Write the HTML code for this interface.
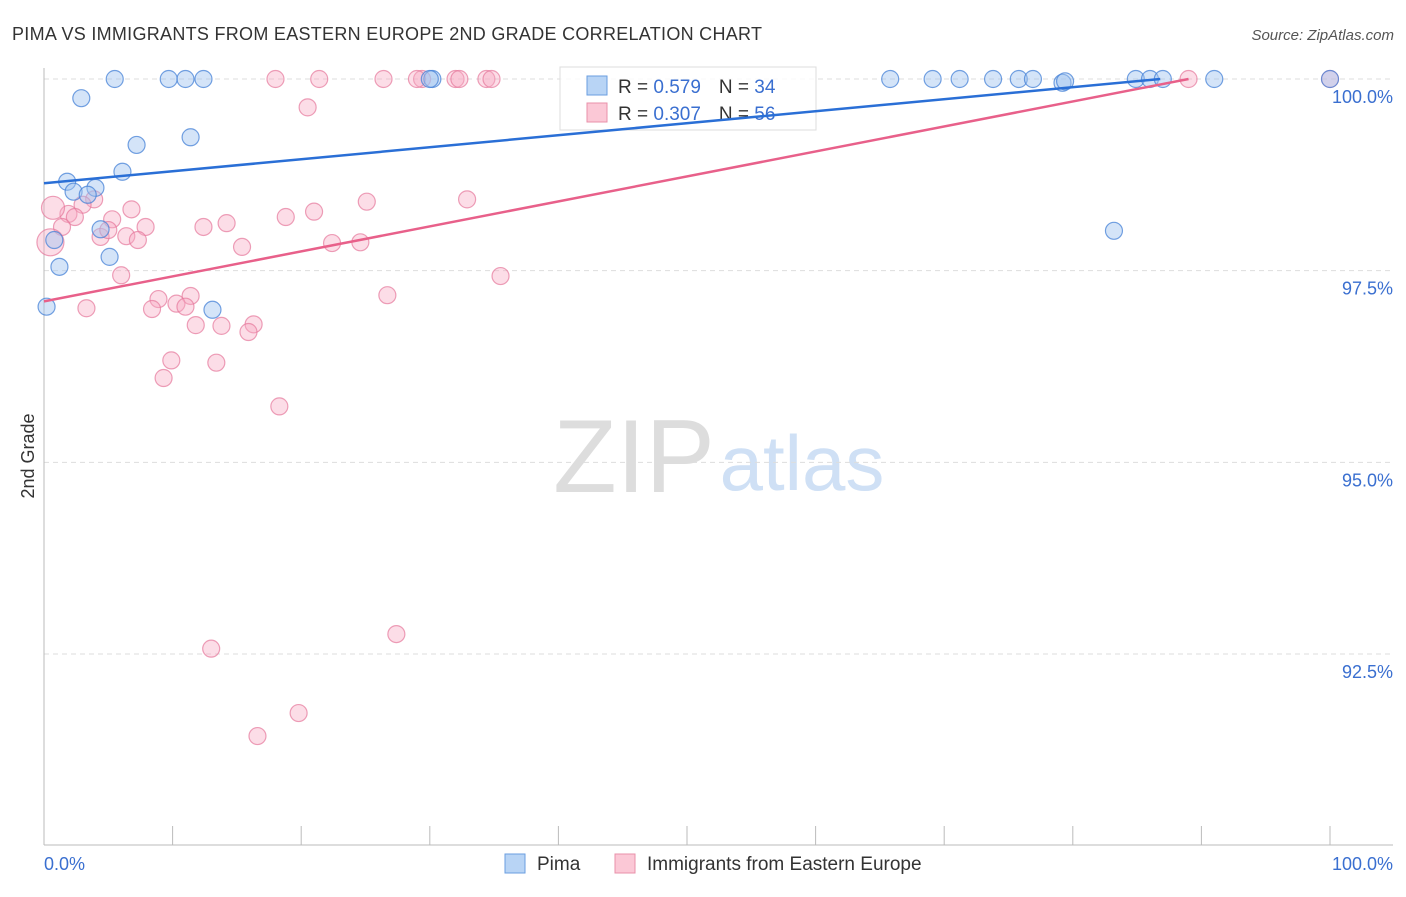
<!DOCTYPE html>
<html><head><meta charset="utf-8"><style>
body{margin:0;background:#fff;font-family:"Liberation Sans",sans-serif}
svg text{font-family:"Liberation Sans",sans-serif}
</style></head><body>
<svg id="chart" width="1406" height="892" xmlns="http://www.w3.org/2000/svg">
<text x="12" y="40" font-size="18" fill="#333" textLength="750">PIMA VS IMMIGRANTS FROM EASTERN EUROPE 2ND GRADE CORRELATION CHART</text>
<text x="1394" y="40" font-size="15" fill="#555" text-anchor="end" font-style="italic">Source: ZipAtlas.com</text>
<g>
<text x="634" y="492" font-size="104" fill="#ddd" text-anchor="middle" font-family="Liberation Serif">ZIP</text>
<text x="802" y="490" font-size="78" fill="#cfe0f5" text-anchor="middle">atlas</text>
</g>
<g id="grid"></g>
<g id="axes"></g>
<g id="points"></g>
<g>
<rect x="560" y="67" width="256" height="63" fill="rgba(255,255,255,0.8)" stroke="#ddd"/>
<rect x="587" y="76" width="20" height="19" fill="#b8d4f5" stroke="#6a9ee0"/>
<rect x="587" y="103" width="20" height="19" fill="#fbc8d6" stroke="#e890aa"/>
<text x="618" y="93" font-size="19" fill="#333">R = <tspan fill="#3a6fd0">0.579</tspan><tspan dx="18">N = </tspan><tspan fill="#3a6fd0">34</tspan></text>
<text x="618" y="120" font-size="19" fill="#333">R = <tspan fill="#3a6fd0">0.307</tspan><tspan dx="18">N = </tspan><tspan fill="#3a6fd0">56</tspan></text>
</g>
<g id="lines"></g>
<text transform="translate(34,456) rotate(-90)" font-size="18" fill="#333" text-anchor="middle">2nd Grade</text>
<g>
<rect x="505" y="854" width="20" height="19" fill="#b8d4f5" stroke="#6a9ee0"/>
<text x="537" y="870" font-size="19" fill="#333">Pima</text>
<rect x="615" y="854" width="20" height="19" fill="#fbc8d6" stroke="#e890aa"/>
<text x="647" y="870" font-size="19" fill="#333">Immigrants from Eastern Europe</text>
</g>
</svg>
<script>
const yTicks=[100,97.5,95,92.5];
const yTickLabels=["100.0%","97.5%","95.0%","92.5%"];
const xTicks=[0,10,20,30,40,50,60,70,80,90,100];
const pimaX=[5.5,9.7,11.0,12.4,30.2,65.8,69.1,71.2,73.8,75.8,76.9,79.2,79.4,84.9,86.0,87.0,91.0,100,2.9,7.2,11.4,6.1,1.8,2.3,4.0,3.4,4.4,0.8,5.1,1.2,0.2,13.1,83.2,30.0];
const pimaY=[100,100,100,100,100,100,100,100,100,100,100,99.95,99.97,100,100,100,100,100,99.75,99.14,99.24,98.79,98.66,98.53,98.58,98.49,98.04,97.90,97.68,97.55,97.03,96.99,98.02,100];
const immX=[18.0,21.4,26.4,29.4,32.0,32.3,34.4,34.8,89.0,100,20.5,25.1,32.9,18.8,21.0,6.8,5.3,3.9,3.0,1.9,2.4,0.7,1.4,0.5,12.4,14.2,7.9,6.4,7.3,4.4,5.0,15.4,22.4,24.6,35.5,26.7,6.0,3.3,8.9,8.4,11.4,10.3,11.0,11.8,13.8,16.3,15.9,9.9,13.4,9.3,18.3,27.4,13.0,19.8,16.6,29.0];
const immY=[100,100,100,100,100,100,100,100,100,100,99.63,98.40,98.43,98.20,98.27,98.30,98.17,98.43,98.36,98.24,98.20,98.32,98.07,97.87,98.07,98.12,98.07,97.95,97.90,97.94,98.03,97.81,97.86,97.87,97.43,97.18,97.44,97.01,97.13,97.00,97.17,97.07,97.03,96.79,96.78,96.80,96.70,96.33,96.30,96.10,95.73,92.76,92.57,91.73,91.43,100];
const immR=[8.5,8.5,8.5,8.5,8.5,8.5,8.5,8.5,8.5,8.5,8.5,8.5,8.5,8.5,8.5,8.5,8.5,8.5,8.5,8.5,8.5,11.5,8.5,13.5,8.5,8.5,8.5,8.5,8.5,8.5,8.5,8.5,8.5,8.5,8.5,8.5,8.5,8.5,8.5,8.5,8.5,8.5,8.5,8.5,8.5,8.5,8.5,8.5,8.5,8.5,8.5,8.5,8.5,8.5,8.5,8.5];
const pimaTrend=[[0,98.64],[86.8,100]];
const immTrend=[[0,97.10],[89,100]];
const NS="http://www.w3.org/2000/svg";
const sx=v=>44+v*12.86;
const sy=v=>79+(100-v)*76.67;
function mk(t,a,p){const e=document.createElementNS(NS,t);for(const k in a)e.setAttribute(k,a[k]);document.getElementById(p).appendChild(e);return e;}
yTicks.forEach((t,i)=>{
 const g=mk('line',{x1:44,x2:1393,y1:sy(t),y2:sy(t),stroke:'#ddd','stroke-dasharray':'5,4'},'grid');
 
 
 const l=mk('text',{x:1393,y:sy(t)+24,'font-size':18,fill:'#3a6fd0','text-anchor':'end'},'axes');
 l.textContent=yTickLabels[i];
 
 
});
const ya=mk('line',{x1:44,x2:44,y1:68,y2:845,stroke:'#bbb'},'axes');


const xa=mk('line',{x1:44,x2:1393,y1:845,y2:845,stroke:'#bbb'},'axes');


xTicks.forEach(t=>{
 const k=mk('line',{x1:sx(t),x2:sx(t),y1:826,y2:845,stroke:'#bbb'},'axes');
 
 
});
[["0.0%",44,"start"],["100.0%",1393,"end"]].forEach(d=>{
 const l=mk('text',{x:d[1],y:870,'font-size':18,fill:'#3a6fd0','text-anchor':d[2]},'axes');
 l.textContent=d[0];
 
 
});
immX.forEach((x,i)=>{
 const c=mk('circle',{cx:sx(x),cy:sy(immY[i]),r:immR[i],fill:'rgba(248,170,195,0.4)',stroke:'rgba(230,120,155,0.7)','stroke-width':1.2},'points');
 
 
});
pimaX.forEach((x,i)=>{
 const c=mk('circle',{cx:sx(x),cy:sy(pimaY[i]),r:8.5,fill:'rgba(160,195,240,0.45)',stroke:'rgba(70,130,215,0.75)','stroke-width':1.2},'points');
 
 
});
const l1=mk('line',{x1:sx(pimaTrend[0][0]),y1:sy(pimaTrend[0][1]),x2:sx(pimaTrend[1][0]),y2:sy(pimaTrend[1][1]),stroke:'#2a6fd6','stroke-width':2.5},'lines');


const l2=mk('line',{x1:sx(immTrend[0][0]),y1:sy(immTrend[0][1]),x2:sx(immTrend[1][0]),y2:sy(immTrend[1][1]),stroke:'#e8608a','stroke-width':2.5},'lines');


</script>
</body></html>
